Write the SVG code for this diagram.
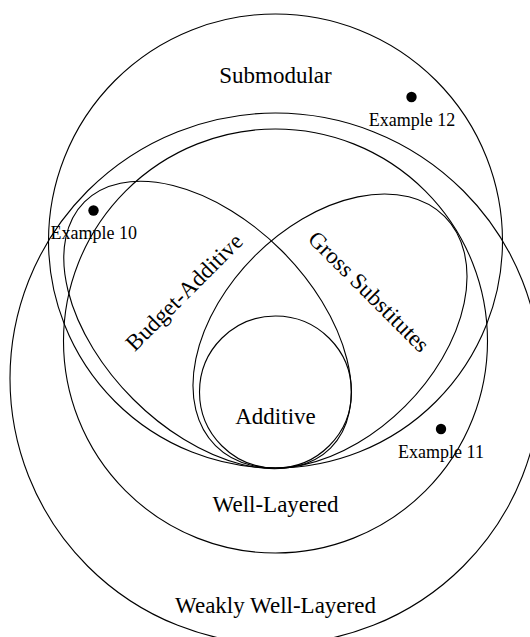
<svg xmlns="http://www.w3.org/2000/svg" width="530" height="637" viewBox="0 0 530 637">
<style>
.set{fill:none;stroke:#000;stroke-width:1.1}
.lbl{font-family:"Liberation Serif","Times New Roman",serif;font-size:23px;fill:#000;text-anchor:middle}
.ex{font-family:"Liberation Serif","Times New Roman",serif;font-size:18px;fill:#000;text-anchor:middle}
.dot{fill:#000}
</style>
<rect width="530" height="637" fill="#fff"/>
<g id="weakly-well-layered">
<circle class="set" cx="275.5" cy="378.5" r="265.5"/>
<text class="lbl" x="275.5" y="613">Weakly Well-Layered</text>
</g>
<g id="well-layered">
<circle class="set" cx="275.5" cy="341" r="212"/>
<text class="lbl" x="275.5" y="512">Well-Layered</text>
</g>
<g id="submodular">
<circle class="set" cx="275.5" cy="241" r="227"/>
<text class="lbl" x="275.5" y="83">Submodular</text>
</g>
<g id="budget-additive">
<ellipse class="set" cx="207.5" cy="325" rx="174" ry="105" transform="rotate(45 207.5 325)"/>
<text class="lbl" x="189.5" y="297.5" transform="rotate(-45 189.5 297.5)">Budget-Additive</text>
</g>
<g id="gross-substitutes">
<ellipse class="set" cx="330" cy="331" rx="162" ry="106.3" transform="rotate(-45 330 331)"/>
<text class="lbl" x="363.5" y="297" transform="rotate(45 363.5 297)">Gross Substitutes</text>
</g>
<g id="additive">
<circle class="set" cx="275.5" cy="392" r="76"/>
<text class="lbl" x="275.5" y="423.5">Additive</text>
</g>
<g id="example-10">
<circle class="dot" cx="93.5" cy="210.5" r="5.2"/>
<text class="ex" x="93.7" y="238.5">Example 10</text>
</g>
<g id="example-11">
<circle class="dot" cx="441" cy="429" r="5.2"/>
<text class="ex" x="441" y="458">Example 11</text>
</g>
<g id="example-12">
<circle class="dot" cx="411.5" cy="97" r="5.2"/>
<text class="ex" x="412" y="126">Example 12</text>
</g>
<g id="connectors"></g>
</svg>
